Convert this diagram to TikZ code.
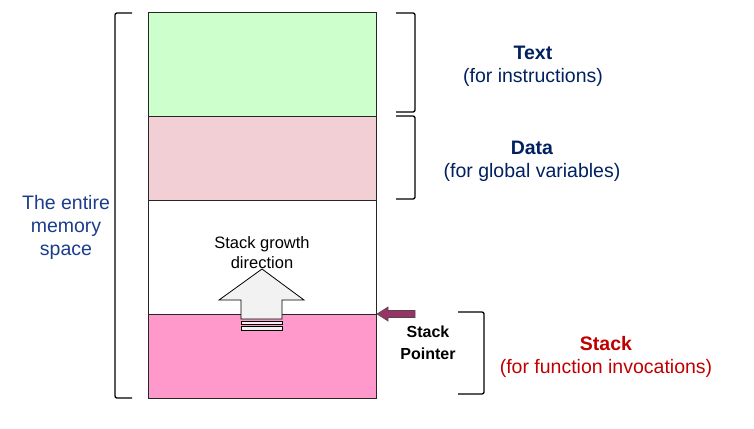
\documentclass[tikz,border=0pt]{standalone}
\usepackage{fontspec}
\setmainfont{Liberation Sans}
\begin{document}
\begin{tikzpicture}[x=1pt,y=-1pt,
  seg/.style={draw=black!85,line width=1.3pt},
  brk/.style={draw=black,line width=1.3pt,rounded corners=2pt},
  lbl/.style={align=center,font=\fontsize{19.5}{23}\selectfont},
]
\definecolor{navyc}{HTML}{002060}
\definecolor{leftc}{HTML}{1C3C8C}
\definecolor{redc}{HTML}{C00000}
\definecolor{textfill}{HTML}{CCFFCC}
\definecolor{datafill}{HTML}{F2CFD4}
\definecolor{stackfill}{HTML}{FF99CC}
\definecolor{spc}{HTML}{993366}
\definecolor{arrowfill}{HTML}{F2F2F2}
\useasboundingbox (0,0) rectangle (754,428);
% memory regions
\node[seg,fill=textfill,minimum width=228pt,minimum height=104pt,inner sep=0pt,anchor=north west] (text) at (148,12) {};
\node[seg,fill=datafill,minimum width=228pt,minimum height=84pt,inner sep=0pt,anchor=north west] (data) at (148,116) {};
\node[seg,fill=white,minimum width=228pt,minimum height=114pt,inner sep=0pt,anchor=north west] (free) at (148,200) {};
\node[seg,fill=stackfill,minimum width=228pt,minimum height=84pt,inner sep=0pt,anchor=north west] (stack) at (148,314) {};
% left bracket
\coordinate (lb1) at (132,13);
\coordinate (lb2) at (132,398);
\draw[brk] (lb1) -- (115,13) -- (115,398) -- (lb2);
% right brackets
\coordinate (tb1) at (396,13);
\coordinate (tb2) at (396,112);
\draw[brk] (tb1) -- (415,13) -- (415,112) -- (tb2);
\coordinate (db1) at (396,116);
\coordinate (db2) at (396,199);
\draw[brk] (db1) -- (415,116) -- (415,199) -- (db2);
\coordinate (sb1) at (458,312);
\coordinate (sb2) at (458,394);
\draw[brk] (sb1) -- (484,312) -- (484,394) -- (sb2);
% labels
\node[lbl,text=navyc] (tl) at (533,66) {\textbf{Text}\\(for instructions)};
\node[lbl,text=navyc] (dl) at (532,161) {\textbf{Data}\\(for global variables)};
\node[lbl,text=redc] (sl) at (606,357) {\textbf{Stack}\\(for function invocations)};
\node[lbl,text=leftc] (ml) at (66,227) {The entire\\memory\\space};
\node[align=center,font=\fontsize{16.5}{20}\selectfont] (gl) at (262,253) {Stack growth\\direction};
\node[align=center,font=\bfseries\fontsize{16}{22}\selectfont] (spl) at (428,343) {Stack\\Pointer};
% growth arrow
\draw[fill=arrowfill,line width=0.8pt,line join=miter]
  (262,269) -- (304,300) -- (282,300) -- (282,319) -- (241,319) -- (241,300) -- (219,300) -- cycle;
\draw[fill=arrowfill,line width=0.8pt] (241,321.5) rectangle (282,324.5);
\draw[fill=arrowfill,line width=0.8pt] (241,326.5) rectangle (282,330);
% stack pointer arrow
\draw[fill=spc,draw=black!70,line width=0.6pt,line join=miter]
  (377,314) -- (388,307) -- (388,310.5) -- (415,310.5) -- (415,317.5) -- (388,317.5) -- (388,321) -- cycle;
\end{tikzpicture}
\end{document}
